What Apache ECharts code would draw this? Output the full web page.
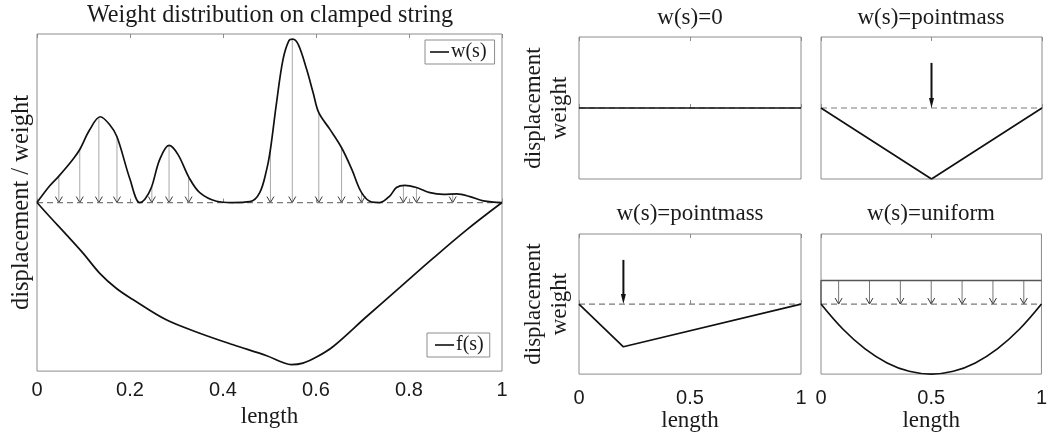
<!DOCTYPE html>
<html><head><meta charset="utf-8">
<script src="https://cdn.jsdelivr.net/npm/echarts@6/dist/echarts.min.js"></script>
<style>html,body{margin:0;padding:0;background:#fff}#c{width:1050px;height:433px}</style>
</head><body><div id="c"></div>
<script>
// ---------- data ----------
const mainTitle = 'Weight distribution on clamped string';
const panelTitles = ['w(s)=0', 'w(s)=pointmass', 'w(s)=pointmass', 'w(s)=uniform'];
const mainTicks = ['0', '0.2', '0.4', '0.6', '0.8', '1'];
const smallTicks = ['0', '0.5', '1'];

// weight distribution w(s)
const wS = [0, 0.027, 0.047, 0.077, 0.092, 0.113, 0.136, 0.156, 0.172, 0.2, 0.221, 0.232, 0.246, 0.264, 0.284, 0.303, 0.327, 0.35, 0.386, 0.42, 0.458, 0.479, 0.494, 0.502, 0.515, 0.529, 0.542, 0.55, 0.562, 0.58, 0.594, 0.606, 0.63, 0.655, 0.677, 0.698, 0.72, 0.737, 0.759, 0.773, 0.791, 0.816, 0.845, 0.874, 0.903, 0.931, 0.96, 1];
const wV = [0, 0.098, 0.157, 0.256, 0.315, 0.43, 0.509, 0.463, 0.39, 0.138, 0, 0.02, 0.089, 0.256, 0.339, 0.286, 0.148, 0.059, 0.008, 0, 0.005, 0.059, 0.197, 0.315, 0.59, 0.848, 0.962, 0.97, 0.937, 0.789, 0.65, 0.533, 0.434, 0.325, 0.197, 0.059, 0.003, 0, 0.04, 0.089, 0.102, 0.089, 0.059, 0.049, 0.051, 0.035, 0.01, 0];

// string displacement f(s)
const fS = [0, 0.027, 0.063, 0.099, 0.135, 0.171, 0.207, 0.278, 0.35, 0.422, 0.494, 0.529, 0.547, 0.572, 0.601, 0.637, 0.709, 0.781, 0.852, 0.924, 1];
const fV = [0, -0.083, -0.19, -0.30, -0.42, -0.51, -0.577, -0.696, -0.775, -0.844, -0.909, -0.949, -0.962, -0.953, -0.917, -0.854, -0.676, -0.502, -0.33, -0.162, 0];

// load arrows in main panel
const arrowS = [0.047, 0.092, 0.133, 0.172, 0.247, 0.284, 0.326, 0.502, 0.549, 0.606, 0.655, 0.698, 0.788, 0.816, 0.894];
const arrowTop = [0.157, 0.315, 0.505, 0.39, 0.092, 0.339, 0.15, 0.315, 0.97, 0.533, 0.325, 0.059, 0.1, 0.089, 0.05];

// small panels
const zeroS = [0, 1], zeroF = [0, 0];
const pm1S = [0, 0.5, 1], pm1F = [0, -1, 0];
const pm1ArrowS = [0.5], pm1ArrowTop = [0.635];
const pm2S = [0, 0.2, 1], pm2F = [0, -0.61, 0];
const pm2ArrowS = [0.2], pm2ArrowTop = [0.63];
const uniWS = [0, 0, 1], uniW = [0, 0.336, 0.336];
const uniArrowS = [0.08, 0.22, 0.36, 0.5, 0.64, 0.78, 0.92];
const uniArrowTop = [0.336, 0.336, 0.336, 0.336, 0.336, 0.336, 0.336];
const uniFS = [0, 0.1, 0.2, 0.3, 0.4, 0.5, 0.6, 0.7, 0.8, 0.9, 1];
const uniF = [0, -0.36, -0.64, -0.84, -0.96, -1, -0.96, -0.84, -0.64, -0.36, 0];
const baseS = [0, 1], baseV = [0, 0];

// ---------- styling / layout ----------
const SERIF = 'Liberation Serif', SANS = 'Liberation Sans';
const TXT = '#1a1a1a', BOX = '#8c8c8c', INK = '#111';
const grids = [
  {left: 37, top: 34, width: 465, height: 338},
  {left: 579, top: 37, width: 222, height: 142},
  {left: 821, top: 37, width: 221, height: 142},
  {left: 579, top: 234, width: 222, height: 142},
  {left: 821, top: 234, width: 221, height: 142}
];

const xAxes = [], yAxes = [];
grids.forEach((g, i) => {
  const isMain = i === 0;
  const labels = isMain ? mainTicks : smallTicks;
  const showLabels = isMain || i >= 3;
  const tick = {show: true, inside: true, length: 4, lineStyle: {color: BOX, width: 1}};
  xAxes.push({
    type: 'value', gridIndex: i, position: 'bottom', min: 0, max: 1, interval: isMain ? 0.2 : 0.5,
    axisLine: {show: false}, axisTick: tick, splitLine: {show: false},
    axisLabel: {show: showLabels, fontFamily: SANS, fontSize: 20, color: TXT, margin: isMain ? 9 : 14,
      showMinLabel: true, showMaxLabel: true, formatter: (v, idx) => labels[idx]},
    name: showLabels ? 'length' : '', nameLocation: 'middle', nameGap: isMain ? 24 : 33,
    nameTextStyle: {fontFamily: SERIF, fontSize: 23, color: TXT}
  });
  xAxes.push({
    type: 'value', gridIndex: i, position: 'top', min: 0, max: 1, interval: isMain ? 0.2 : 0.5,
    axisLine: {show: false}, axisTick: tick, axisLabel: {show: false}, splitLine: {show: false}
  });
  yAxes.push({
    type: 'value', gridIndex: i, min: -1, max: 1,
    axisLine: {show: false}, axisTick: {show: false}, axisLabel: {show: false}, splitLine: {show: false},
    name: isMain ? 'displacement / weight' : (i === 1 || i === 3 ? 'displacement\nweight' : ''),
    nameLocation: 'middle', nameRotate: 90, nameGap: isMain ? 2 : 6,
    nameTextStyle: isMain
      ? {fontFamily: SERIF, fontSize: 24.5, color: TXT, lineHeight: 26}
      : {fontFamily: SERIF, fontSize: 23, color: TXT, lineHeight: 26}
  });
});

function pairs(xs, ys) { return xs.map((x, k) => [x, ys[k]]); }
function lineSeries(gi, xs, ys, o) {
  o = o || {};
  const c = o.color || INK;
  return {
    type: 'line', name: o.name, xAxisIndex: 2 * gi, yAxisIndex: gi, data: pairs(xs, ys),
    symbol: 'none', showSymbol: false, smooth: o.smooth || false, silent: true, animation: false,
    z: o.z || 3, itemStyle: {color: c},
    lineStyle: {color: c, width: o.width || 1.7, type: o.type || 'solid'}
  };
}
function dashedBase(gi) {
  return lineSeries(gi, baseS, baseV, {color: '#7a7a7a', width: 1.2, type: [6, 4], z: 2});
}
function arrowSeries(gi, xs, tops, st) {
  return {
    type: 'custom', xAxisIndex: 2 * gi, yAxisIndex: gi, data: pairs(xs, tops), silent: true,
    animation: false, z: st.z || 1,
    renderItem: (params, api) => {
      const a = api.coord([api.value(0), api.value(1)]);
      const b = api.coord([api.value(0), 0]);
      const children = [{
        type: 'line',
        shape: {x1: a[0], y1: a[1], x2: b[0], y2: b[1] - (st.filled ? st.hh * 0.7 : 0)},
        style: {stroke: st.shaft, lineWidth: st.lw}
      }];
      const pts = [[b[0] - st.hw, b[1] - st.hh], [b[0], b[1]], [b[0] + st.hw, b[1] - st.hh]];
      if (st.filled) children.push({type: 'polygon', shape: {points: pts}, style: {fill: st.head}});
      else children.push({type: 'polyline', shape: {points: pts}, style: {stroke: st.head, lineWidth: 1, fill: null}});
      return {type: 'group', children};
    }
  };
}

const series = [
  // main panel
  dashedBase(0),
  arrowSeries(0, arrowS, arrowTop, {shaft: '#a8a8a8', lw: 1, head: '#3a3a3a', hw: 3.5, hh: 6}),
  lineSeries(0, wS, wV, {name: 'w(s)', smooth: 0.35}),
  lineSeries(0, fS, fV, {name: 'f(s)', smooth: 0.35}),
  // w(s)=0
  dashedBase(1),
  lineSeries(1, zeroS, zeroF, {width: 1.4}),
  // pointmass at 0.5
  dashedBase(2),
  lineSeries(2, pm1S, pm1F),
  arrowSeries(2, pm1ArrowS, pm1ArrowTop, {shaft: INK, lw: 2, head: INK, hw: 2.5, hh: 10, filled: true, z: 4}),
  // pointmass at 0.2
  dashedBase(3),
  lineSeries(3, pm2S, pm2F),
  arrowSeries(3, pm2ArrowS, pm2ArrowTop, {shaft: INK, lw: 2, head: INK, hw: 2.5, hh: 10, filled: true, z: 4}),
  // uniform
  dashedBase(4),
  arrowSeries(4, uniArrowS, uniArrowTop, {shaft: '#777', lw: 1, head: '#333', hw: 3.5, hh: 6}),
  lineSeries(4, uniWS, uniW, {color: '#555', width: 1.3}),
  lineSeries(4, uniFS, uniF, {smooth: 0.4})
];

const legendCommon = {
  orient: 'horizontal', icon: 'rect', itemWidth: 19, itemHeight: 1.6, itemGap: 4,
  borderColor: BOX, borderWidth: 1, backgroundColor: '#fff',
  itemStyle: {color: INK},
  textStyle: {fontFamily: SERIF, fontSize: 20, color: TXT, padding: [0, 0, 0, -3]},
  selectedMode: false
};

const titleStyle = (t, size) => ({text: t, fontFamily: SERIF, fontSize: size, fill: TXT, align: 'center', verticalAlign: 'middle'});

const option = {
  animation: false,
  backgroundColor: '#fff',
  grid: grids.map(g => Object.assign({show: true, borderColor: BOX, borderWidth: 1, backgroundColor: 'transparent'}, g)),
  xAxis: xAxes,
  yAxis: yAxes,
  legend: [
    Object.assign({}, legendCommon, {data: ['w(s)'], left: 425, top: 40, padding: [2, 8, 2, 5]}),
    Object.assign({}, legendCommon, {data: ['f(s)'], left: 427, top: 333, padding: [2, 6, 2, 8]})
  ],
  graphic: [
    {type: 'text', x: 270, y: 16, style: titleStyle(mainTitle, 24.2)},
    {type: 'text', x: 690, y: 18, style: titleStyle(panelTitles[0], 23)},
    {type: 'text', x: 931, y: 18, style: titleStyle(panelTitles[1], 23)},
    {type: 'text', x: 690, y: 214, style: titleStyle(panelTitles[2], 23)},
    {type: 'text', x: 931, y: 214, style: titleStyle(panelTitles[3], 23)}
  ],
  series: series
};

const chart = echarts.init(document.getElementById('c'), null, {renderer: 'canvas'});
chart.setOption(option);
</script>
</body></html>
